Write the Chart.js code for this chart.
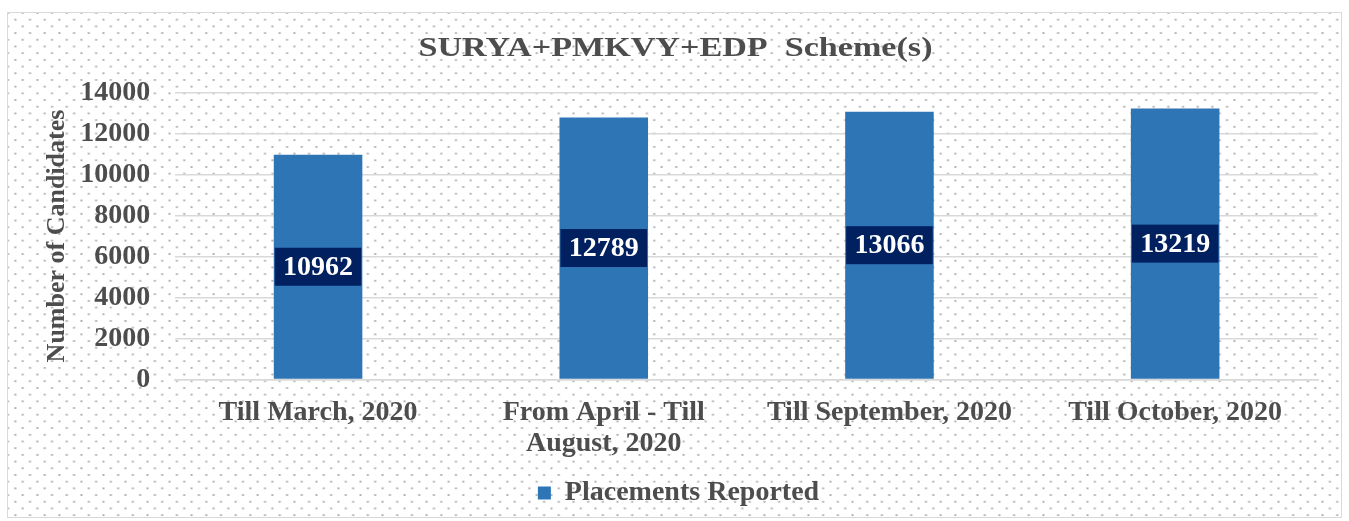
<!DOCTYPE html>
<html>
<head>
<meta charset="utf-8">
<script src="https://cdn.jsdelivr.net/npm/chart.js@4"></script>
<style>
  body { margin: 0; background: #fff; }
  #wrap {
    position: absolute; left: 7px; top: 12px; width: 1333px; height: 504px;
    border: 1px solid #d9d9d9;
    background-color: #fff;
    background-image:
      radial-gradient(circle, #b0b0b0 0.9px, transparent 1.3px),
      radial-gradient(circle, #b0b0b0 0.9px, transparent 1.3px);
    background-size: 14.7px 13.4px, 14.7px 13.4px;
    background-position: 0 0, 7.35px 6.7px;
  }
</style>
</head>
<body>
<div id="wrap"><canvas id="chart"></canvas></div>
<script>
const categories = ['Till March, 2020', ['From April - Till', 'August, 2020'], 'Till September, 2020', 'Till October, 2020'];
const placements = [10962, 12789, 13066, 13219];
const titleText = 'SURYA+PMKVY+EDP  Scheme(s)';

const font = 'Liberation Serif, Times New Roman, serif';
const textColor = '#4d4d4d';

// navy box with the value, centred on each bar; title drawn stretched like the original
const boxLabels = {
  id: 'boxLabels',
  afterDatasetsDraw(chart) {
    const ctx = chart.ctx;
    const meta = chart.getDatasetMeta(0);
    ctx.save();
    ctx.font = 'bold 28px ' + font;
    ctx.textAlign = 'center';
    ctx.textBaseline = 'middle';
    meta.data.forEach((bar, i) => {
      const w = bar.width - 2;
      const h = 38;
      const cy = (bar.y + bar.base) / 2;
      ctx.fillStyle = '#002060';
      ctx.fillRect(bar.x - w / 2, cy - h / 2, w, h);
      ctx.fillStyle = '#ffffff';
      ctx.fillText(placements[i], bar.x, cy + 1);
    });
    ctx.restore();
  },
  afterDraw(chart) {
    const ctx = chart.ctx;
    ctx.save();
    ctx.font = 'bold 27px ' + font;
    const sx = 514 / ctx.measureText(titleText).width;
    ctx.translate(chart.width / 2 + 1, 36);
    ctx.scale(sx, 1);
    ctx.textAlign = 'center';
    ctx.textBaseline = 'middle';
    ctx.fillStyle = textColor;
    ctx.fillText(titleText, 0, 0);
    ctx.restore();
  }
};

new Chart(document.getElementById('chart'), {
  type: 'bar',
  data: {
    labels: categories,
    datasets: [{
      label: 'Placements Reported',
      data: placements,
      backgroundColor: '#2e75b6',
      barPercentage: 0.31,
      categoryPercentage: 1
    }]
  },
  options: {
    responsive: true,
    maintainAspectRatio: false,
    animation: false,
    layout: { padding: { left: 31, right: 23, top: 17, bottom: 0 } },
    plugins: {
      title: {
        display: true,
        text: titleText,
        color: 'rgba(0,0,0,0)',
        font: { family: font, size: 28, weight: 'bold' },
        padding: { top: 0, bottom: 29 }
      },
      legend: {
        position: 'bottom',
        labels: {
          color: textColor,
          font: { family: font, size: 28, weight: 'bold' },
          boxWidth: 13,
          boxHeight: 13,
          padding: 9
        }
      },
      tooltip: { enabled: false }
    },
    scales: {
      x: {
        grid: { display: false },
        border: { color: '#d9d9d9', width: 1.5 },
        ticks: {
          color: textColor,
          font: { family: font, size: 28, weight: 'bold', lineHeight: 1.1 },
          padding: 10,
          maxRotation: 0,
          autoSkip: false
        },
        afterFit(scale) {
          scale.height += 1;
          scale.paddingLeft = 0;
          scale.paddingRight = 0;
        }
      },
      y: {
        min: 0,
        max: 14000,
        ticks: {
          stepSize: 2000,
          color: textColor,
          font: { family: font, size: 28, weight: 'bold' },
          padding: 25,
          callback: v => String(v)
        },
        grid: { color: '#d9d9d9', lineWidth: 1.5, drawTicks: false },
        border: { display: false },
        title: {
          display: true,
          text: 'Number of Candidates',
          color: textColor,
          font: { family: font, size: 26, weight: 'bold' },
          padding: 3
        },
        afterFit(scale) { scale.width -= 21; }
      }
    }
  },
  plugins: [boxLabels]
});
</script>
</body>
</html>
